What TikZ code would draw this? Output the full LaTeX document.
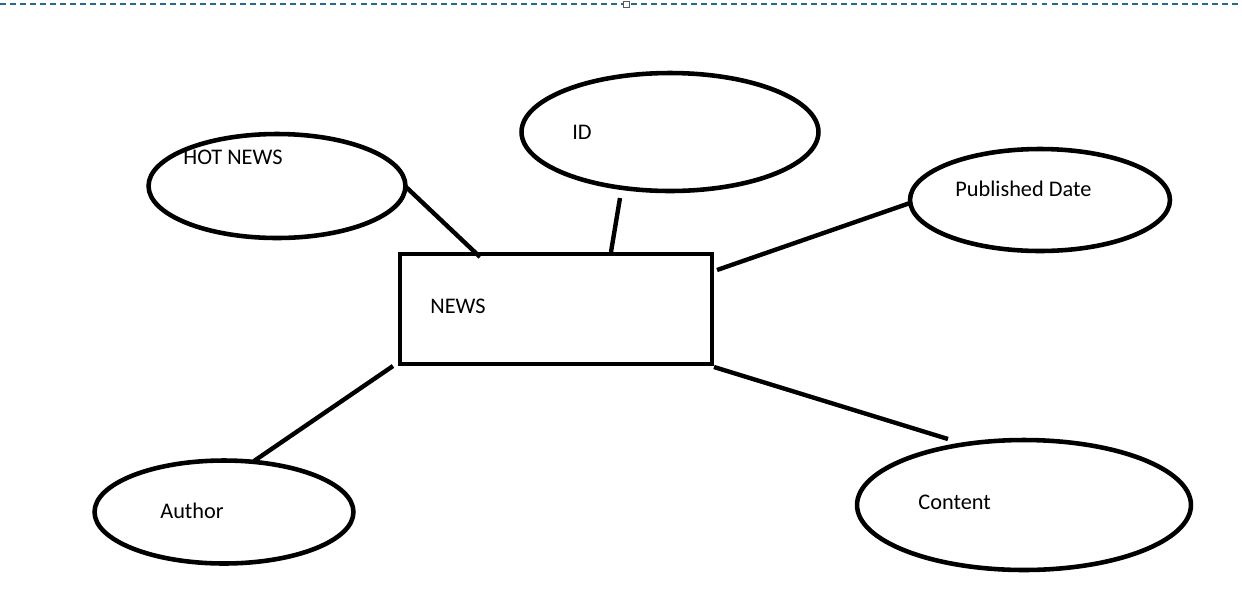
\documentclass[tikz,border=0pt]{standalone}
\usepackage{fontspec}
\setmainfont{Carlito}
\usetikzlibrary{shapes.geometric}
\definecolor{pageline}{RGB}{36,108,140}

\begin{document}
\begin{tikzpicture}[x=0.02cm, y=-0.02cm,
        attr/.style={draw, ellipse, line width=2.6pt, inner sep=0pt},
        entity/.style={draw, rectangle, line width=2.8pt, inner sep=0pt,
            minimum width=6.24cm, minimum height=2.2cm},
        txt/.style={anchor=west, inner sep=0pt, font=\fontsize{12.7}{14}\selectfont},
        link/.style={line width=2.5pt}]
    \useasboundingbox (0, 0) rectangle (1242, 610);
    % page edge
    \draw[pageline, line width=0.7pt, dash pattern=on 3.4pt off 2.3pt] (0, 4) -- (1242, 4);
    \draw[gray!70!black, fill=white, line width=0.5pt] (623, 1) rectangle (629, 7);

    % entity and attributes
    \node[entity] (news) at (556, 309) {};
    \node[attr, minimum width=5.14cm, minimum height=2.08cm] (hot) at (277, 186) {};
    \node[attr, minimum width=5.94cm, minimum height=2.36cm] (id) at (670, 132) {};
    \node[attr, minimum width=5.2cm, minimum height=2.04cm] (pubdate) at (1040, 200) {};
    \node[attr, minimum width=5.18cm, minimum height=2.06cm] (author) at (224, 512) {};
    \node[attr, minimum width=6.68cm, minimum height=2.6cm] (content) at (1024, 505) {};

    % labels
    \node[txt] (newslbl) at (430, 306) {NEWS};
    \node[txt] (hotlbl) at (183, 157) {HOT NEWS};
    \node[txt] (idlbl) at (572, 132) {ID};
    \node[txt] (pubdatelbl) at (955, 189) {Published Date};
    \node[txt] (authorlbl) at (160, 511) {Author};
    \node[txt] (contentlbl) at (918, 502) {Content};

    % connector ends
    \coordinate (hotend) at (405, 186);
    \coordinate (newshot) at (480, 257);
    \coordinate (idend) at (620, 198);
    \coordinate (newsid) at (611, 252);
    \coordinate (newspub) at (717, 270);
    \coordinate (pubend) at (910, 203);
    \coordinate (newsauthor) at (393, 366);
    \coordinate (authorend) at (254, 461);
    \coordinate (newscontent) at (714, 367);
    \coordinate (contentend) at (948, 439);

    \draw[link] (hotend) -- (newshot);
    \draw[link] (idend) -- (newsid);
    \draw[link] (newspub) -- (pubend);
    \draw[link] (newsauthor) -- (authorend);
    \draw[link] (newscontent) -- (contentend);
\end{tikzpicture}
\end{document}
